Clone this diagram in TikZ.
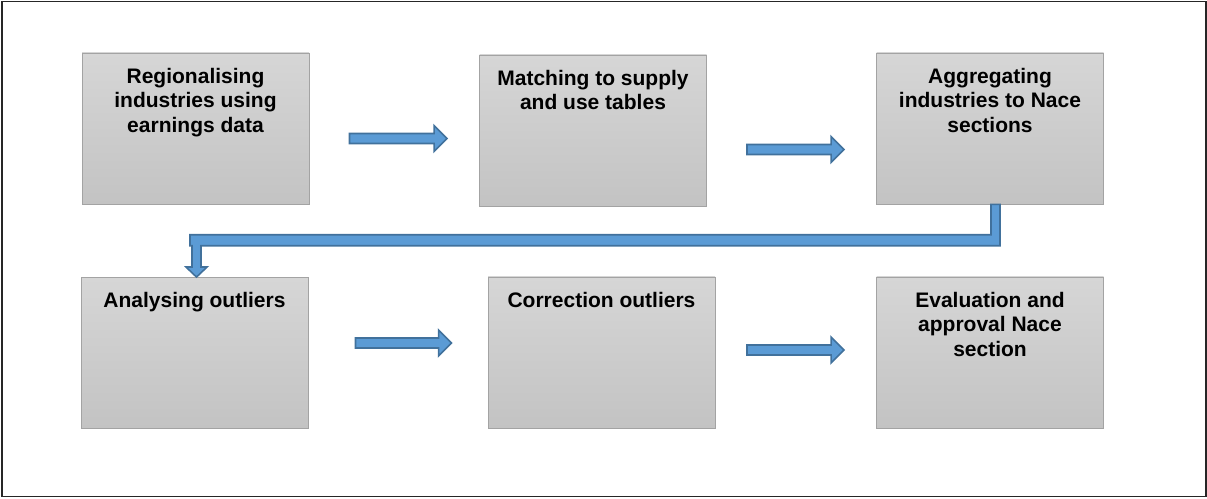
\documentclass[tikz,border=0pt]{standalone}
\usepackage{fontspec}
\setmainfont{Liberation Sans}
\usetikzlibrary{calc}
\definecolor{boxtop}{RGB}{214,214,214}
\definecolor{boxbot}{RGB}{195,195,195}
\definecolor{boxline}{RGB}{163,163,163}
\definecolor{arrowfill}{RGB}{91,155,213}
\definecolor{arrowline}{RGB}{65,113,156}
\newcommand{\toptext}[1]{\parbox[c][121pt][t]{222pt}{\centering #1}}
\tikzset{
  stage/.style = {draw=boxline, line width=0.9pt, top color=boxtop, bottom color=boxbot,
                  minimum width=227pt, minimum height=151pt, inner sep=0pt,
                  font=\bfseries\fontsize{21}{24.5}\selectfont},
  fatline/.style = {fill=arrowfill, draw=arrowline, line width=1.6pt, line join=miter},
  fat/.style   = {fatline,
                  to path={let \p1=(\tikztostart), \p2=(\tikztotarget) in
                    (\x1,\y1+5pt) -- (\x2-13pt,\y1+5pt) -- (\x2-13pt,\y1+13pt) -- (\x2,\y1)
                    -- (\x2-13pt,\y1-13pt) -- (\x2-13pt,\y1-5pt) -- (\x1,\y1-5pt) -- cycle}},
  frame/.style = {draw=black!85, line width=1.6pt}
}
\begin{document}
\begin{tikzpicture}[x=1pt, y=1pt]
  \useasboundingbox (0,0) rectangle (1207,498);
  \draw[frame] (2,1.5) rectangle (1206,496.5);

  % upper row
  \node[stage] (reg)   at (195.5,369.5) {\toptext{Regionalising\\industries using\\earnings data}};
  \node[stage] (match) at (593,367.5)   {\toptext{Matching to supply\\and use tables}};
  \node[stage] (agg)   at (990,369.5)   {\toptext{Aggregating\\industries to Nace\\sections}};
  % lower row
  \node[stage] (anal)  at (194.5,145)   {\toptext{Analysing outliers}};
  \node[stage] (corr)  at (601.5,145.5) {\toptext{Correction outliers}};
  \node[stage] (eval)  at (990,145.5)   {\toptext{Evaluation and\\approval Nace\\section}};

  \draw[fat] ($(reg.east)+(40,-10)$)    to ($(match.west)+(-32,0)$);
  \draw[fat] ($(match.east)+(40,-19)$)  to ($(agg.west)+(-32,0)$);
  \draw[fat] ($(anal.east)+(47,10)$)    to ($(corr.west)+(-36,0)$);
  \draw[fat] ($(corr.east)+(31.5,2.5)$) to ($(eval.west)+(-32,0)$);

  % elbow from the upper row down to the lower row
  \draw[fatline] let \p1=(agg.south), \p2=(anal.north), \p3=($(agg.south)!0.5!(anal.north)$) in
    (\x1+1pt,\y1) -- (\x1+10pt,\y1) -- (\x1+10pt,\y3-5pt) -- (\x2+6.5pt,\y3-5pt)
    -- (\x2+6.5pt,\y2+10pt) -- (\x2+12.5pt,\y2+10pt) -- (\x2+2pt,\y2) -- (\x2-8.5pt,\y2+10pt)
    -- (\x2-2.5pt,\y2+10pt) -- (\x2-2.5pt,\y3-5pt) -- (\x2-4.5pt,\y3-5pt) -- (\x2-4.5pt,\y3+6pt)
    -- (\x1+1pt,\y3+6pt) -- cycle;
\end{tikzpicture}
\end{document}
